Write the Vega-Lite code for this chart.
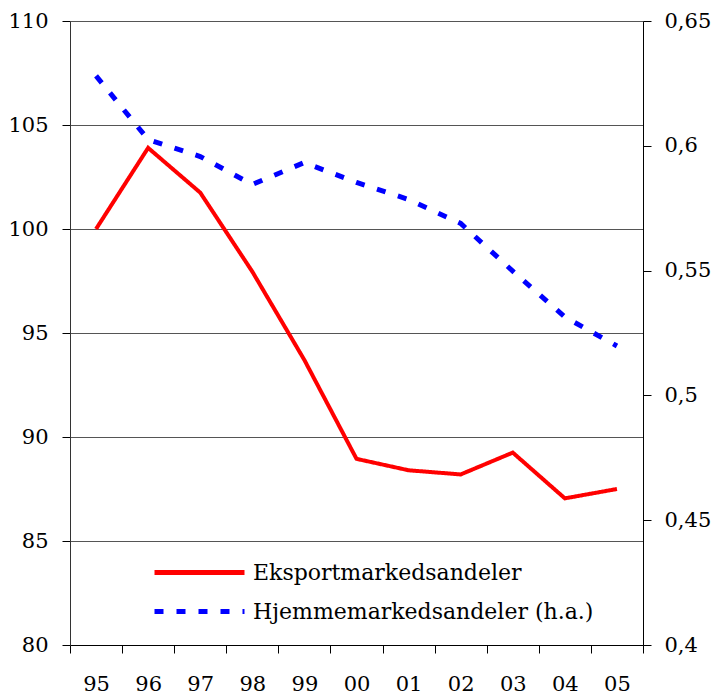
{
  "$schema": "https://vega.github.io/schema/vega-lite/v6.json",
  "autosize": {"type": "none"},
  "width": 573,
  "height": 624,
  "padding": {"left": 70, "top": 21, "right": 69, "bottom": 50},
  "background": "white",
  "config": {
    "font": "DejaVu Serif",
    "view": {"stroke": null},
    "axis": {"labelFont": "DejaVu Serif", "labelFontSize": 21, "labelColor": "black", "domainColor": "black", "tickColor": "black", "tickSize": 8},
    "legend": {"labelFont": "DejaVu Serif"}
  },
  "data": {
    "values": [
      {"year": "95", "series": "Eksportmarkedsandeler", "value": 100.0},
      {"year": "96", "series": "Eksportmarkedsandeler", "value": 103.9},
      {"year": "97", "series": "Eksportmarkedsandeler", "value": 101.75},
      {"year": "98", "series": "Eksportmarkedsandeler", "value": 97.95},
      {"year": "99", "series": "Eksportmarkedsandeler", "value": 93.7},
      {"year": "00", "series": "Eksportmarkedsandeler", "value": 88.95},
      {"year": "01", "series": "Eksportmarkedsandeler", "value": 88.4},
      {"year": "02", "series": "Eksportmarkedsandeler", "value": 88.2},
      {"year": "03", "series": "Eksportmarkedsandeler", "value": 89.25},
      {"year": "04", "series": "Eksportmarkedsandeler", "value": 87.05},
      {"year": "05", "series": "Eksportmarkedsandeler", "value": 87.5},
      {"year": "95", "series": "Hjemmemarkedsandeler (h.a.)", "value": 0.628},
      {"year": "96", "series": "Hjemmemarkedsandeler (h.a.)", "value": 0.6025},
      {"year": "97", "series": "Hjemmemarkedsandeler (h.a.)", "value": 0.5957},
      {"year": "98", "series": "Hjemmemarkedsandeler (h.a.)", "value": 0.5845},
      {"year": "99", "series": "Hjemmemarkedsandeler (h.a.)", "value": 0.5933},
      {"year": "00", "series": "Hjemmemarkedsandeler (h.a.)", "value": 0.5853},
      {"year": "01", "series": "Hjemmemarkedsandeler (h.a.)", "value": 0.5785},
      {"year": "02", "series": "Hjemmemarkedsandeler (h.a.)", "value": 0.5689},
      {"year": "03", "series": "Hjemmemarkedsandeler (h.a.)", "value": 0.5498},
      {"year": "04", "series": "Hjemmemarkedsandeler (h.a.)", "value": 0.5314},
      {"year": "05", "series": "Hjemmemarkedsandeler (h.a.)", "value": 0.5198}
    ]
  },
  "encoding": {
    "x": {
      "field": "year", "type": "ordinal", "sort": null,
      "scale": {"type": "band", "paddingInner": 0, "paddingOuter": 0},
      "axis": {"title": null, "labelAngle": 0, "tickBand": "extent", "labelPadding": 20, "domainColor": "black", "grid": false}
    },
    "color": {
      "field": "series", "type": "nominal",
      "scale": {"domain": ["Eksportmarkedsandeler", "Hjemmemarkedsandeler (h.a.)"], "range": ["#ff0000", "#0000ff"]},
      "legend": {
        "title": null, "orient": "none", "legendX": 82, "legendY": 534,
        "symbolType": "M-1,0H5", "symbolSize": 900, "symbolStrokeWidth": 5,
        "labelFontSize": 22, "labelColor": "black", "labelLimit": 500,
        "labelOffset": 66, "rowPadding": 10
      }
    },
    "strokeDash": {
      "field": "series", "type": "nominal",
      "scale": {"domain": ["Eksportmarkedsandeler", "Hjemmemarkedsandeler (h.a.)"], "range": [[1, 0], [9, 13]]},
      "legend": {
        "title": null, "orient": "none", "legendX": 82, "legendY": 534,
        "symbolType": "M-1,0H5", "symbolSize": 900, "symbolStrokeWidth": 5,
        "labelFontSize": 22, "labelColor": "black", "labelLimit": 500,
        "labelOffset": 66, "rowPadding": 10
      }
    }
  },
  "layer": [
    {
      "transform": [{"filter": "datum.series === 'Eksportmarkedsandeler'"}],
      "mark": {"type": "line", "strokeWidth": 4},
      "encoding": {
        "y": {
          "field": "value", "type": "quantitative",
          "scale": {"domain": [80, 110], "nice": false, "zero": false},
          "axis": {"title": null, "values": [80, 85, 90, 95, 100, 105, 110], "labelPadding": 14, "grid": true, "gridColor": "#555555", "gridWidth": 1, "domainColor": "#333333"}
        }
      }
    },
    {
      "transform": [{"filter": "datum.series !== 'Eksportmarkedsandeler'"}],
      "mark": {"type": "line", "strokeWidth": 5},
      "encoding": {
        "y": {
          "field": "value", "type": "quantitative",
          "scale": {"domain": [0.4, 0.65], "nice": false, "zero": false},
          "axis": {"title": null, "orient": "right", "values": [0.4, 0.45, 0.5, 0.55, 0.6, 0.65], "labelExpr": "replace(format(datum.value, '.2~f'), '.', ',')", "labelPadding": 13, "grid": false, "domainColor": "black"}
        }
      }
    }
  ],
  "resolve": {"scale": {"y": "independent"}, "axis": {"y": "independent"}}
}
